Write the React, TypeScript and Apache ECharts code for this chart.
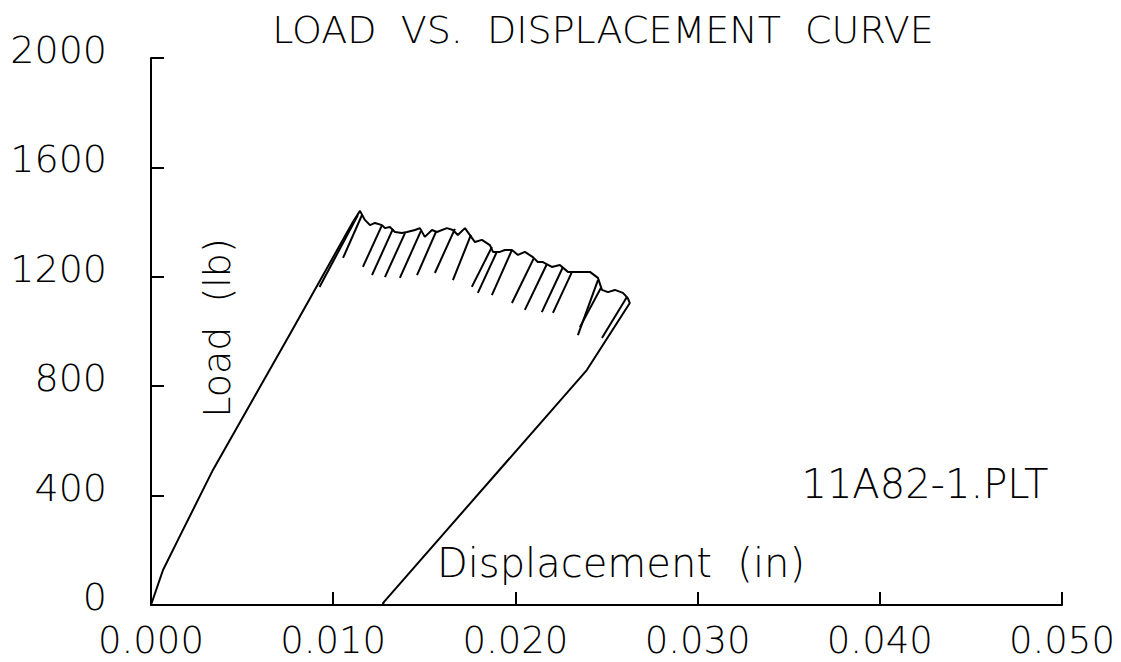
import React, { useEffect, useRef } from "react";
import * as echarts from "echarts";

// Initial loading branch (displacement in, load lb)
const loadX = [0, 0.00066, 0.00148, 0.0034, 0.00763, 0.00944, 0.01037, 0.01108, 0.01147];
const loadY = [0, 128, 238, 494, 991, 1206, 1316, 1400, 1441];

// Serrated post-peak envelope
const envX = [
  0.01174, 0.01202, 0.01229, 0.01268, 0.01284, 0.01311, 0.01339, 0.01377, 0.01405, 0.01449,
  0.01476, 0.01503, 0.01542, 0.01569, 0.01624, 0.01657, 0.01684, 0.01723, 0.01778, 0.01816,
  0.0186, 0.01877, 0.01915, 0.01942, 0.01981, 0.02014, 0.02052, 0.02096, 0.02123, 0.02151,
  0.022, 0.02244, 0.02288, 0.02337, 0.02409, 0.02453, 0.02475, 0.02508, 0.02546, 0.0259,
  0.02617, 0.02628,
];
const envY = [
  1408, 1389, 1397, 1389, 1378, 1382, 1364, 1360, 1364, 1371,
  1378, 1346, 1371, 1364, 1378, 1371, 1353, 1378, 1327, 1335,
  1316, 1291, 1291, 1298, 1298, 1280, 1291, 1272, 1254, 1254,
  1236, 1243, 1218, 1218, 1218, 1196, 1152, 1144, 1152, 1141,
  1122, 1104,
];

// Final unloading branch
const unloadX = [0.02392, 0.01273, 0.0128];
const unloadY = [859, 7, 0];

// Unload/reload hatches (top point on envelope -> lowest point)
const hatchTopX = [0.01135, 0.01158, 0.01268, 0.01328, 0.01394, 0.01481, 0.01564, 0.01668, 0.01756, 0.01871, 0.01898, 0.01981, 0.02102, 0.02173, 0.02261, 0.0231, 0.02453, 0.02469, 0.02612];
const hatchTopY = [1425, 1426, 1389, 1375, 1360, 1367, 1364, 1375, 1353, 1309, 1291, 1298, 1269, 1247, 1236, 1217, 1188, 1159, 1126];
const hatchBotX = [0.00925, 0.01054, 0.01163, 0.01213, 0.01284, 0.01366, 0.0146, 0.01558, 0.01657, 0.01761, 0.01794, 0.01871, 0.01981, 0.02052, 0.02145, 0.02206, 0.02343, 0.02354, 0.02475];
const hatchBotY = [1163, 1269, 1236, 1206, 1199, 1196, 1206, 1214, 1188, 1163, 1141, 1133, 1104, 1079, 1071, 1068, 987, 1016, 976];

const titleText = "LOAD  VS.  DISPLACEMENT  CURVE";
const yName = "Load  (lb)";
const xName = "Displacement  (in)";
const fileTag = "11A82-1.PLT";

const FONT = "'DejaVu Sans', sans-serif";

export default function App() {
  const ref = useRef<HTMLDivElement>(null);
  useEffect(() => {
    if (!ref.current) return;
    const chart = echarts.init(ref.current, null, { renderer: "svg" });
    const curve: number[][] = [];
    loadX.forEach((x, i) => curve.push([x, loadY[i]]));
    envX.forEach((x, i) => curve.push([x, envY[i]]));
    unloadX.forEach((x, i) => curve.push([x, unloadY[i]]));
    const hatches = hatchTopX.map((x, i) => ({
      coords: [
        [x, hatchTopY[i]],
        [hatchBotX[i], hatchBotY[i]],
      ],
    }));
    chart.setOption({
      animation: false,
      backgroundColor: "#fff",
      grid: {
        left: 151,
        right: 59,
        top: 58,
        bottom: 57,
        containLabel: false,
        outerBoundsMode: "none",
      },
      xAxis: {
        type: "value",
        position: "bottom",
        min: 0,
        max: 0.05,
        interval: 0.01,
        splitLine: { show: false },
        axisLine: { show: true, onZero: false, lineStyle: { color: "#000", width: 2 } },
        axisTick: {
          show: true,
          inside: true,
          length: 13,
          lineStyle: { color: "#000", width: 2, type: "solid", opacity: 1 },
        },
        axisLabel: {
          margin: 20,
          color: "#000",
          fontFamily: FONT,
          fontSize: 37,
          fontWeight: 200,
          lineHeight: 30,
          formatter: (v: number) => v.toFixed(3),
        },
      },
      yAxis: {
        type: "value",
        position: "left",
        min: 0,
        max: 2000,
        interval: 400,
        splitLine: { show: false },
        axisLine: { show: true, onZero: false, lineStyle: { color: "#000", width: 2 } },
        axisTick: {
          show: true,
          length: -13,
          lineStyle: { color: "#000", width: 2, type: "solid", opacity: 1 },
        },
        axisLabel: {
          margin: 44,
          color: "#000",
          fontFamily: FONT,
          fontSize: 38,
          fontWeight: 200,
          lineHeight: 16,
          verticalAlign: "bottom",
          formatter: (v: number) => String(v),
        },
      },
      series: [
        {
          type: "line",
          data: curve,
          showSymbol: false,
          symbol: "none",
          lineStyle: { color: "#000", width: 2 },
        },
        {
          type: "lines",
          coordinateSystem: "cartesian2d",
          data: hatches,
          lineStyle: { color: "#000", width: 2, opacity: 1 },
        },
      ],
      graphic: [
        {
          type: "text",
          x: 603,
          y: 30,
          style: {
            text: titleText,
            fill: "#000",
            font: `200 38px ${FONT}`,
            align: "center",
            verticalAlign: "middle",
          },
        },
        {
          type: "text",
          x: 217,
          y: 328,
          rotation: Math.PI / 2,
          style: {
            text: yName,
            fill: "#000",
            font: `200 38px ${FONT}`,
            align: "center",
            verticalAlign: "middle",
          },
        },
        {
          type: "text",
          x: 621,
          y: 563,
          style: {
            text: xName,
            fill: "#000",
            font: `200 40px ${FONT}`,
            align: "center",
            verticalAlign: "middle",
          },
        },
        {
          type: "text",
          x: 925,
          y: 484,
          style: {
            text: fileTag,
            fill: "#000",
            font: `200 40px ${FONT}`,
            align: "center",
            verticalAlign: "middle",
          },
        },
      ],
    });
    return () => chart.dispose();
  }, []);
  return (
    <div
      ref={ref}
      style={{ position: "fixed", left: 0, top: 0, width: 1121, height: 662, background: "#fff" }}
    />
  );
}
